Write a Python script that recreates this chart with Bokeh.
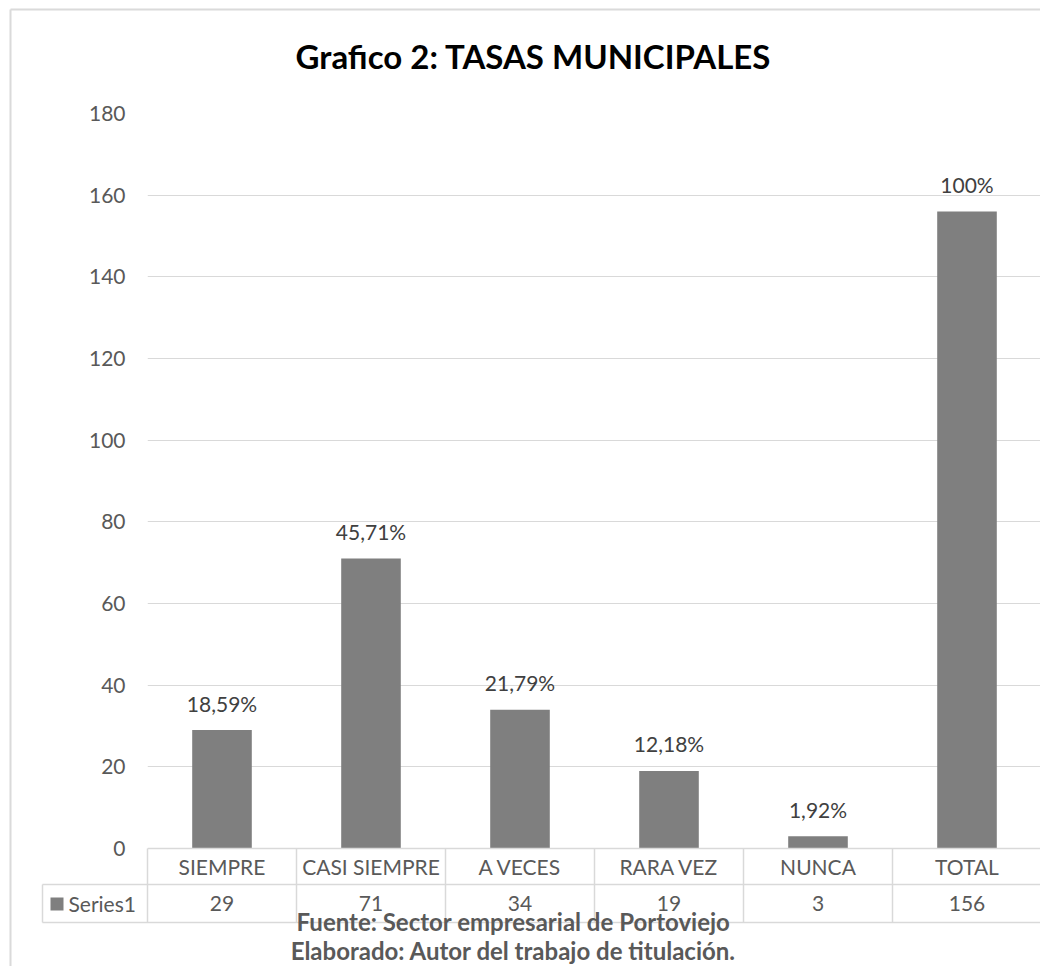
from bokeh.plotting import figure
from bokeh.models import Range1d, FixedTicker, LinearAxis, Grid
from bokeh.core.properties import value
from bokeh.embed import file_html
from bokeh.resources import INLINE

# ---- data ----
categories = ["SIEMPRE", "CASI SIEMPRE", "A VECES", "RARA VEZ", "NUNCA", "TOTAL"]
counts = [29, 71, 34, 19, 3, 156]
percent_labels = ["18,59%", "45,71%", "21,79%", "12,18%", "1,92%", "100%"]
y_ticks = [0, 20, 40, 60, 80, 100, 120, 140, 160, 180]
series_name = "Series1"
title_text = "Grafico 2: TASAS MUNICIPALES"
source_text = "Fuente: Sector empresarial de Portoviejo"
author_text = "Elaborado: Autor del trabajo de titulación."

# ---- layout helpers (canvas pixel -> data coordinate) ----
FONT = "Lato"
FS = "21px"
GRID = "#d9d9d9"
X0_PX, COL_PX = 147.0, 149.0
Y0_PX, Y_TOP_PX = 848.0, 113.0
KY = (Y0_PX - Y_TOP_PX) / y_ticks[-1]
W, H = 1040, 966


def ix(px):
    return -0.5 + (px - X0_PX) / COL_PX


def iy(py):
    return (Y0_PX - py) / KY


x_start, x_end = -0.5, ix(W)
y_bot, y_top = iy(922), float(y_ticks[-1])

p = figure(width=W, height=H, output_backend="svg", toolbar_location=None,
           x_range=Range1d(x_start, x_end), y_range=Range1d(y_bot, y_top),
           x_axis_type=None, y_axis_type=None,
           min_border_left=int(X0_PX), min_border_right=0,
           min_border_top=int(Y_TOP_PX), min_border_bottom=H - 922)
p.outline_line_color = None
p.background_fill_color = "white"
p.border_fill_color = "white"

# grid
ygrid = Grid(dimension=1, ticker=FixedTicker(ticks=y_ticks), grid_line_color=GRID, grid_line_width=1)
p.add_layout(ygrid)

# y axis
yaxis = LinearAxis(ticker=FixedTicker(ticks=y_ticks), axis_line_color=None,
                   major_tick_line_color=None, minor_tick_line_color=None,
                   major_tick_out=0, major_tick_in=0,
                   major_label_standoff=22, major_label_text_font=FONT,
                   major_label_text_font_size=FS, major_label_text_color="#595959")
p.add_layout(yaxis, "left")

# x axis (category row of the data table)
xaxis = LinearAxis(fixed_location=0, ticker=FixedTicker(ticks=list(range(len(categories)))),
                   major_label_overrides={i: c for i, c in enumerate(categories)},
                   axis_line_color=GRID, axis_line_width=1.5,
                   major_tick_line_color=None, minor_tick_line_color=None,
                   major_tick_out=0, major_tick_in=0,
                   major_label_standoff=5, major_label_text_font=FONT,
                   major_label_text_font_size=FS, major_label_text_color="#595959")
p.add_layout(xaxis, "below")

xs = list(range(len(categories)))

# bars
p.vbar(x=xs, top=counts, bottom=0, width=0.4, fill_color="#7f7f7f", line_color=None)

# percent labels
p.text(x=xs, y=counts, text=percent_labels, y_offset=-27, text_align="center",
       text_baseline="middle", text_font=value(FONT), text_font_size=value(FS),
       text_color="#404040")

# data table lines
bounds = [i - 0.5 for i in range(len(categories) + 1)]
p.segment(x0=bounds, y0=[0] * len(bounds), x1=bounds, y1=[iy(922)] * len(bounds),
          line_color=GRID, line_width=1.5, level="overlay")
p.segment(x0=[ix(42), ix(42)], y0=[iy(884), iy(922)], x1=[x_end, x_end], y1=[iy(884), iy(922)],
          line_color=GRID, line_width=1.5, level="overlay")
p.segment(x0=[ix(42)], y0=[iy(884)], x1=[ix(42)], y1=[iy(922)],
          line_color=GRID, line_width=1.5, level="overlay")

# value row
p.text(x=xs, y=[iy(903)] * len(xs), text=[str(c) for c in counts], text_align="center",
       text_baseline="middle", text_font=value(FONT), text_font_size=value(FS),
       text_color="#595959", level="overlay")

# legend key cell
p.segment(x0=[ix(50)], y0=[iy(903.5)], x1=[ix(63)], y1=[iy(903.5)], line_width=13,
          line_cap="butt", line_color="#7f7f7f", level="overlay")
p.text(x=[ix(68)], y=[iy(903)], text=[series_name], text_align="left", text_baseline="middle",
       text_font=value(FONT), text_font_size=value(FS), text_color="#595959", level="overlay")

# outer chart border
p.segment(x0=[ix(10), ix(10)], y0=[iy(9), iy(9)], x1=[ix(10), ix(W)], y1=[iy(H), iy(9)],
          line_color="#dadada", line_width=2, level="overlay")

# title and footer
p.text(x=[ix(533)], y=[iy(55)], text=[title_text], text_align="center", text_baseline="middle",
       text_font=value(FONT), text_font_size=value("33px"), text_font_style="bold",
       text_color="#000000", level="overlay")
p.text(x=[ix(513), ix(513)], y=[iy(921), iy(950)], text=[source_text, author_text],
       text_align="center", text_baseline="middle", text_font=value(FONT),
       text_font_size=value("24px"), text_font_style="bold", text_color="#595959",
       level="overlay")

open("out.html", "w").write(file_html(p, INLINE))
